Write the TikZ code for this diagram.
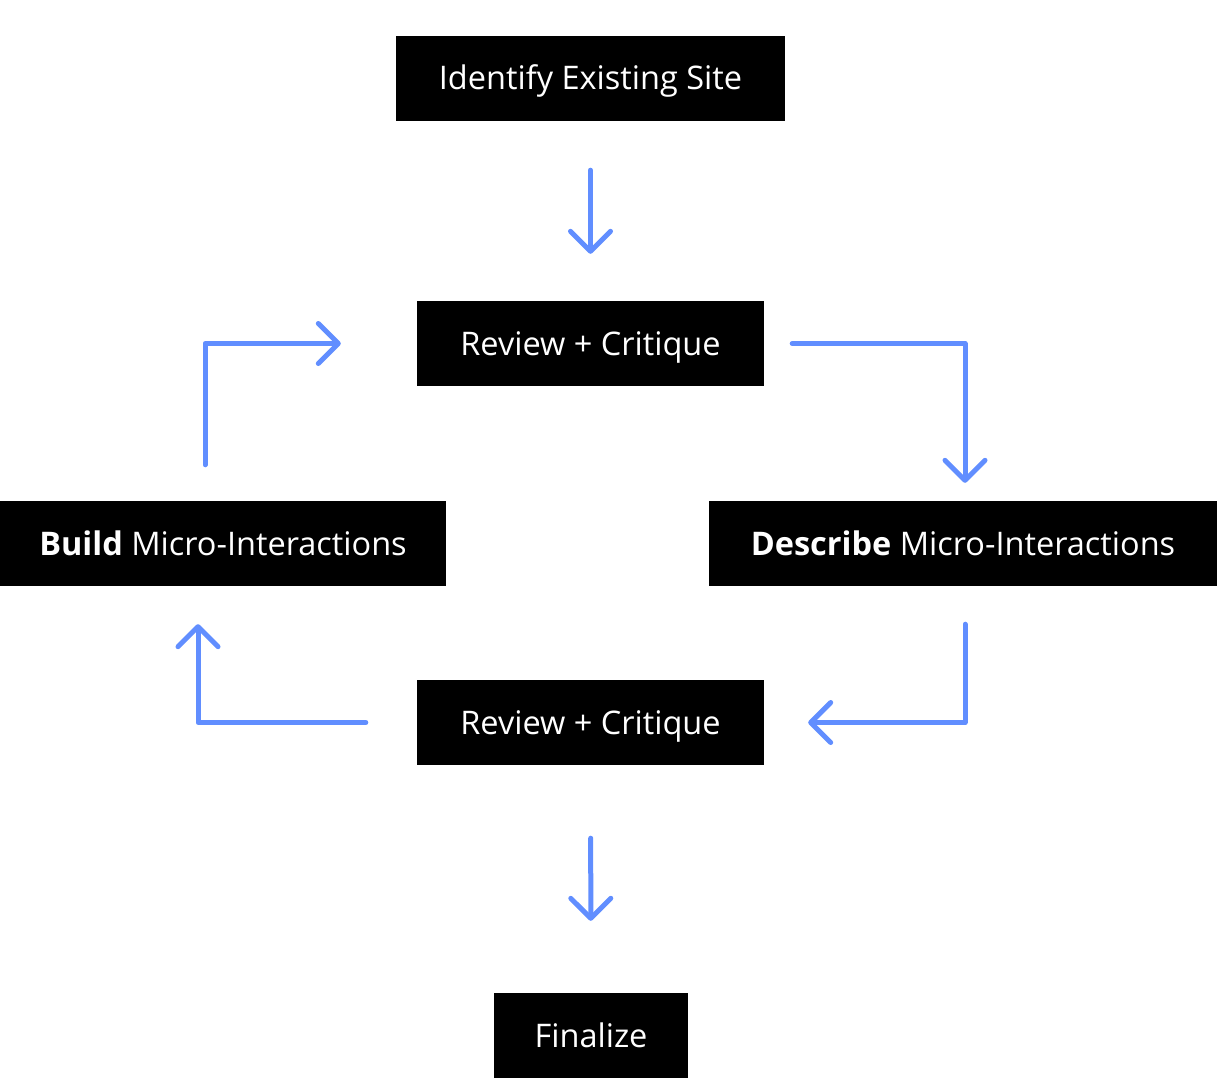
\documentclass[tikz,border=0pt]{standalone}
\usepackage{fontspec}
\setmainfont{Open Sans}
\usepackage{tikz}
\usetikzlibrary{arrows.meta,calc}
\definecolor{loopblue}{RGB}{97,142,255}
\tikzset{
  stepbox/.style = {rectangle, fill=black, text=white, inner sep=0pt,
                    minimum height=85pt, align=center, text height=23pt, text depth=0pt,
                    font=\fontsize{32.5}{38}\selectfont},
  flow/.style    = {-{Straight Barb[length=20pt, width=40pt, round]}, line width=5pt,
                    loopblue, line cap=round, line join=round},
}

\begin{document}
\begin{tikzpicture}[x=1pt, y=-1pt]
    \useasboundingbox (0,0) rectangle (1217,1078);

    % boxes
    \node[stepbox, minimum width=389pt] (ident)    at (590.5,78.5)  {Identify Existing Site};
    \node[stepbox, minimum width=347pt] (rev1)     at (590.5,343.5) {Review + Critique};
    \node[stepbox, minimum width=446pt] (build)    at (223,543.5)   {\textbf{Build} Micro-Interactions};
    \node[stepbox, minimum width=508pt] (describe) at (963,543.5)   {\textbf{Describe} Micro-Interactions};
    \node[stepbox, minimum width=347pt] (rev2)     at (590.5,722.5) {Review + Critique};
    \node[stepbox, minimum width=194pt] (final)    at (591,1035.5)  {Finalize};

    % straight arrows
    \draw[flow, shorten <=49pt, shorten >=47pt] (ident) -- (rev1);
    \draw[flow, shorten <=73pt, shorten >=72pt] (rev2) -- (final);

    % the loop
    \draw[flow, shorten <=28pt, shorten >=18pt] (rev1.east) -| ([xshift=2pt]describe.north);
    \draw[flow, shorten <=38pt, shorten >=44pt] ([xshift=2pt]describe.south) |- (rev2.east);
    \draw[flow, shorten <=51pt, shorten >=38pt] (rev2.west) -| ([xshift=-25pt]build.south);
    \draw[flow, shorten <=36pt, shorten >=76pt] ([xshift=-18pt]build.north) |- (rev1.west);
\end{tikzpicture}
\end{document}
